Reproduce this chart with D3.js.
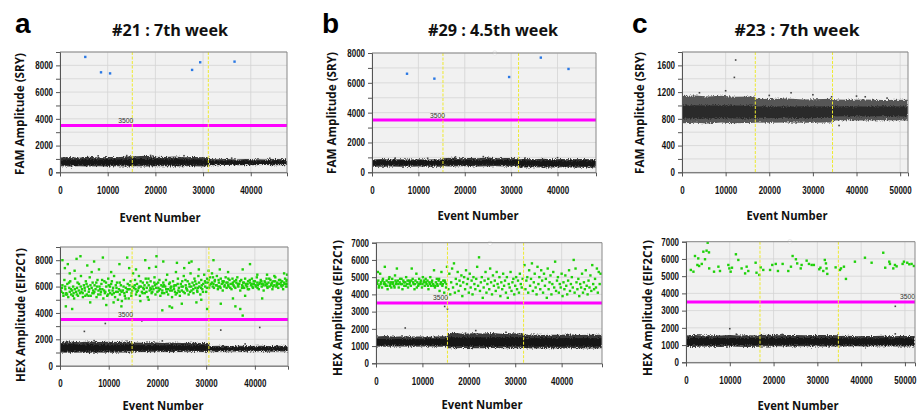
<!DOCTYPE html>
<html><head><meta charset="utf-8">
<script src="https://cdn.jsdelivr.net/npm/d3@7"></script>
<style>body{margin:0;background:#fff}svg{display:block}</style>
</head><body>
<svg id="c" width="920" height="412">
<defs>
<filter id="rough" x="-2%" y="-40%" width="104%" height="180%">
  <feTurbulence type="fractalNoise" baseFrequency="0.95 0.7" numOctaves="2" seed="7" result="n"/>
  <feDisplacementMap in="SourceGraphic" in2="n" scale="4.5" xChannelSelector="R" yChannelSelector="G"/>
</filter>
</defs>
</svg>
<script>
// ---------------- DATA ----------------
const panelLetters = ["a", "b", "c"];
const panelTitles = ["#21 : 7th week", "#29 : 4.5th week", "#23 : 7th week"];
const famLabel = "FAM Amplitude (SRY)";
const hexLabel = "HEX Amplitude (EIF2C1)";
const xLabel = "Event Number";
const threshold = 3500;

const xTicks40 = [0, 10000, 20000, 30000, 40000];
const xTicks50 = [0, 10000, 20000, 30000, 40000, 50000];
const yTicks8k = [0, 2000, 4000, 6000, 8000];
const yMinor9k = [1000, 3000, 5000, 7000, 9000];
const yMinor8k = [1000, 3000, 5000, 7000];
const yTicks7k = [0, 1000, 2000, 3000, 4000, 5000, 6000, 7000];
const yTicks1600 = [0, 400, 800, 1200, 1600];
const yMinor1600 = [200, 600, 1000, 1400, 1800];

// gate positions (event number) per panel
const gatesATop = [15160, 31100];
const gatesABot = [14800, 30560];
const gatesBTop = [15300, 31600];
const gatesBBot = [15400, 31800];
const gatesCTop = [16800, 34500];
const gatesCBot = [16900, 34800];

// negative droplet bands: [event, outerLow, coreLow, coreHigh, outerHigh]
const bandATop = [[0,450,560,940,1100],[2000,440,550,950,1150],[4000,460,560,930,1080],[6000,430,550,950,1170],[8000,450,560,940,1100],[10000,440,550,960,1150],[12000,460,560,950,1120],[14000,430,550,960,1180],[16000,450,560,980,1200],[18000,440,570,990,1230],[20000,460,560,970,1160],[22000,450,560,960,1140],[24000,440,560,970,1190],[26000,460,570,960,1130],[28000,450,560,960,1150],[30000,440,560,950,1120],[31100,450,560,950,1130],[31200,530,610,880,1000],[33000,520,600,870,970],[35000,540,610,880,990],[37000,520,600,870,960],[39000,530,610,880,1000],[41000,520,600,870,980],[43000,540,610,870,960],[45000,520,600,880,990],[47600,530,610,870,970]];
const bandABot = [[0,1000,1100,1600,1800],[2000,990,1100,1620,1840],[4000,1010,1110,1600,1780],[6000,990,1100,1610,1830],[8000,1000,1100,1590,1790],[10000,990,1110,1600,1820],[12000,1010,1100,1610,1800],[14000,1000,1110,1600,1830],[14800,1000,1100,1600,1800],[15000,1050,1150,1560,1760],[17000,1040,1150,1550,1740],[19000,1060,1160,1560,1770],[21000,1050,1150,1540,1730],[23000,1040,1150,1550,1750],[25000,1060,1160,1550,1720],[27000,1050,1150,1540,1740],[29000,1040,1150,1550,1730],[30560,1050,1160,1540,1720],[30700,1080,1170,1400,1500],[33000,1070,1160,1410,1520],[35000,1080,1170,1400,1490],[37000,1060,1160,1390,1510],[39000,1080,1170,1400,1500],[41000,1070,1160,1410,1520],[43000,1060,1160,1400,1490],[45000,1080,1170,1390,1510],[46800,1070,1160,1400,1500]];
const bandBTop = [[0,380,480,790,860],[2000,370,470,800,890],[4000,390,480,790,850],[6000,380,470,800,880],[8000,370,480,790,860],[10000,390,480,800,870],[12000,380,470,790,850],[14000,370,480,800,880],[15300,380,480,790,860],[15400,400,500,820,950],[17000,390,500,830,980],[19000,410,500,820,940],[21000,400,510,830,960],[23000,390,500,820,950],[25000,410,500,830,990],[27000,400,510,820,940],[29000,390,500,830,960],[31600,400,500,820,950],[31700,330,430,780,880],[33000,320,430,790,900],[35000,340,440,780,870],[37000,330,430,790,910],[39000,320,430,780,880],[41000,340,440,790,900],[43000,330,430,780,870],[45000,320,430,790,890],[48300,330,440,780,880]];
const bandCTop = [[0,735,805,1000,1140],[3000,740,805,1005,1150],[6000,730,800,1000,1135],[9000,745,810,1005,1145],[12000,735,805,1000,1130],[16800,740,805,1000,1135],[16900,745,815,985,1100],[20000,740,810,990,1095],[24000,745,815,985,1105],[28000,740,810,990,1090],[34500,745,815,985,1100],[34600,775,835,985,1090],[38000,780,840,990,1085],[42000,775,835,985,1090],[46000,780,840,990,1080],[51800,775,835,985,1085]];
const bandBBot = [[0,970,1050,1400,1550],[2000,960,1050,1410,1580],[4000,980,1060,1400,1540],[6000,970,1050,1410,1570],[8000,960,1050,1400,1550],[10000,980,1060,1400,1560],[12000,970,1050,1410,1540],[14000,960,1050,1400,1570],[15400,970,1050,1400,1550],[15500,880,1000,1500,1740],[17000,870,1000,1510,1760],[19000,890,1010,1500,1720],[21000,880,1000,1510,1750],[23000,870,1000,1500,1730],[25000,890,1010,1510,1760],[27000,880,1000,1500,1720],[29000,870,1000,1510,1740],[31800,880,1000,1500,1730],[31900,870,980,1450,1650],[34000,860,980,1460,1670],[36000,880,990,1450,1640],[38000,870,980,1460,1660],[40000,860,980,1450,1650],[42000,880,990,1460,1670],[44000,870,980,1450,1640],[46000,860,980,1460,1660],[48700,870,990,1450,1650]];
const bandCBot = [[0,900,1000,1400,1560],[2000,890,1000,1410,1580],[4000,910,1010,1400,1550],[6000,900,1000,1410,1570],[8000,890,1000,1400,1560],[10000,910,1010,1410,1580],[12000,900,1000,1400,1550],[14000,890,1000,1410,1570],[16900,900,1000,1400,1560],[17000,920,1020,1400,1580],[19000,910,1020,1410,1600],[21000,930,1030,1400,1570],[23000,920,1020,1410,1590],[25000,910,1020,1400,1580],[27000,930,1030,1410,1570],[29000,920,1020,1400,1590],[31000,910,1020,1410,1580],[34800,920,1020,1400,1570],[34900,920,1010,1380,1520],[37000,910,1010,1390,1540],[39000,930,1020,1380,1510],[41000,920,1010,1390,1530],[43000,910,1010,1380,1520],[45000,930,1020,1390,1540],[47000,920,1010,1380,1510],[49000,910,1010,1390,1530],[52300,920,1020,1380,1520]];

// isolated negative (grey) droplets
const negATop = [[14000,1250],[19000,1260],[26000,1240],[8000,1230],[36000,1060],[44000,1050]];
const negABot = [[5000,2600],[9300,3200],[16800,3400],[33000,2700],[41000,2900],[7000,1900],[21000,1880],[38000,1650]];
const negBTop = [[5000,950],[12000,940],[18000,1030],[24000,1050],[33000,960],[40000,980]];
const negBBot = [[6300,2050],[19300,1750],[21500,1900],[14800,3300],[15400,3150],[28000,1800]];
const negCTop = [[12300,1680],[12000,1420],[10000,1220],[4000,1190],[25000,1190],[40000,1140],[42000,1130],[36000,700],[34300,1130],[20000,1150],[30000,1160],[47000,1110]];
const negCBot = [[10000,1950],[47800,3250],[47800,1650],[22000,1620],[11500,1630]];

// FAM positive droplets (blue)
const posATop = [[5300,8630],[8600,7480],[10500,7400],[27700,7660],[29400,8230],[36600,8280]];
const posBTop = [[7550,6610],[13450,6280],[29570,6390],[36400,7690],[42370,6930]];
const posCTop = [];

// HEX positive droplets (green)
const posABot = [[300,5600],[500,6100],[700,5300],[900,6500],[1100,5800],[1300,5500],[1500,6200],[1700,5200],[1900,5900],[2100,6400],[2300,5400],[2500,5700],[2700,6000],[2900,5100],[3100,6600],[3300,5600],[3500,5900],[3700,5300],[3900,6200],[4100,5500],[4300,6800],[4500,5800],[4700,5200],[4900,6100],[5100,5700],[5300,6400],[5500,5400],[5700,6000],[5900,5600],[6100,6700],[6300,5300],[6500,5900],[6700,6300],[6900,5500],[7100,6100],[7300,5800],[7500,5200],[7700,6500],[7900,5700],[8100,6000],[8300,5400],[8500,6200],[8700,5800],[8900,5100],[9100,6400],[9300,5600],[9500,6000],[9700,5300],[9900,6600],[10100,5700],[10300,5500],[10500,6200],[10700,5400],[10900,5900],[11100,6800],[11300,5200],[11500,5600],[11700,6300],[11900,5000],[12100,5800],[12300,5400],[12500,6100],[12700,4900],[12900,5700],[13100,6500],[13300,5300],[13500,5900],[13700,5600],[13900,6200],[14100,5100],[14300,5800],[14500,6400],[14700,5500],[14900,6000],
[400,5900],[1200,5400],[2000,5600],[2800,5500],[3600,6300],[4400,5600],[5200,5300],[6000,5800],[6800,5700],[7600,6000],[8400,5600],[9200,5500],[10000,6100],[10800,5700],[11600,5900],[12400,5700],[13200,5500],[14000,5800],[14800,5700],
[150,5700],[650,5500],[1050,6000],[1450,5400],[1850,6300],[2250,5800],[2650,5300],[3050,5800],[3450,5400],[3850,5700],[4250,6000],[4650,5500],[5050,5900],[5450,6200],[5850,5300],[6250,6100],[6650,5500],[7050,5600],[7450,6300],[7850,5400],[8250,5800],[8650,6500],[9050,5700],[9450,6300],[9850,5400],[10250,6000],[10650,6400],[11050,5500],[11450,6100],[11850,5600],[12250,6300],[12650,5600],[13050,6000],[13450,5100],[13850,5800],[14250,6100],[14650,5300],
[500,8000],[1000,7400],[1600,7700],[2000,7000],[2500,4300],[1200,4500],[3400,8100],[4200,8300],[5600,7600],[6200,4800],[7000,7900],[8000,7300],[8800,8200],[9500,4600],[10500,7100],[11000,4800],[12200,7700],[12600,4500],[13800,8200],[14200,7400],[3000,7200],[6500,7100],
[15200,5900],[15400,6500],[15600,5400],[15800,6200],[16000,5700],[16200,6800],[16400,5300],[16600,6000],[16800,5600],[17000,6300],[17200,5800],[17400,5500],[17600,6600],[17800,5900],[18000,5200],[18200,6100],[18400,5700],[18600,6400],[18800,5500],[19000,6000],[19200,5800],[19400,6700],[19600,5400],[19800,6200],[20000,5600],[20200,5900],[20400,6500],[20600,5300],[20800,6100],[21000,5700],[21200,6300],[21400,5500],[21600,6000],[21800,5800],[22000,6900],[22200,5400],[22400,6200],[22600,5700],[22800,6000],[23000,5200],[23200,6400],[23400,5800],[23600,5600],[23800,6100],[24000,5500],[24200,6600],[24400,5900],[24600,5300],[24800,6200],[25000,5700],[25200,6000],[25400,6800],[25600,5500],[25800,6100],[26000,5800],[26200,6400],[26400,5400],[26600,6000],[26800,7000],[27000,5700],[27200,6300],[27400,5500],[27600,6600],[27800,5900],[28000,6200],[28200,5600],[28400,6800],[28600,6000],[28800,5400],[29000,6500],[29200,5800],[29400,6200],[29600,6900],[29800,6000],[30000,5600],[30200,6600],[30400,6300],[30600,5900],[30800,6700],
[15500,5800],[16300,6000],[17100,5900],[17900,6300],[18700,5800],[19500,6100],[20300,5700],[21100,6000],[21900,5600],[22700,5900],[23500,6100],[24300,5700],[25100,6400],[25900,5900],[26700,5600],[27500,6100],[28300,5900],[29100,6100],[29900,6300],[30700,6100],
[15350,6100],[15750,5600],[16150,5900],[16550,6400],[16950,5500],[17350,6100],[17750,5600],[18150,6600],[18550,5900],[18950,5600],[19350,6300],[19750,5900],[20150,6300],[20550,5800],[20950,5500],[21350,6100],[21750,6500],[22150,5800],[22550,6300],[22950,5700],[23350,6000],[23750,5400],[24150,6200],[24550,5600],[24950,6000],[25350,5600],[25750,6500],[26150,5700],[26550,6200],[26950,6000],[27350,5800],[27750,6400],[28150,5700],[28550,6300],[28950,5900],[29350,5600],[29750,6400],[30150,5900],[30550,6500],[30950,6200],
[15000,7000],[15600,7300],[16500,4900],[17500,8000],[18300,7400],[18200,5000],[19800,8300],[19700,7500],[21000,4200],[21200,7900],[22500,4500],[23000,4400],[23800,7100],[24000,7800],[25000,4700],[25500,7400],[26500,7800],[27000,7900],[28500,7300],[29000,5000],[30200,4300],[30500,7200],[28000,4800],
[31200,6300],[31400,6700],[31600,5900],[31800,6500],[32000,6100],[32200,6800],[32400,5800],[32600,6300],[32800,6000],[33000,6600],[33200,6200],[33400,5700],[33600,6400],[33800,6100],[34000,6700],[34200,5900],[34400,6300],[34600,6000],[34800,6500],[35000,6200],[35200,5800],[35400,6600],[35600,6100],[35800,6400],[36000,5900],[36200,6300],[36400,6700],[36600,6000],[36800,6200],[37000,5700],[37200,6500],[37400,6100],[37600,6300],[37800,5900],[38000,6600],[38200,6200],[38400,6000],[38600,6400],[38800,5800],[39000,6300],[39200,6100],[39400,6600],[39600,5900],[39800,6200],[40000,6400],[40200,6000],[40400,6700],[40600,6100],[40800,5800],[41000,6300],[41200,6500],[41400,6000],[41600,6200],[41800,5700],[42000,6400],[42200,6100],[42400,6600],[42600,5900],[42800,6300],[43000,6000],[43200,6500],[43400,6200],[43600,5800],[43800,6400],[44000,6100],[44200,6700],[44400,6000],[44600,6300],[44800,5900],[45000,6200],[45200,6500],[45400,6100],[45600,6400],[45800,5800],[46000,6300],[46200,6600],[46400,6000],[46600,6200],
[31500,6200],[32500,6000],[33500,6300],[34500,6100],[35500,6300],[36500,6200],[37500,6000],[38500,6200],[39500,6000],[40500,6300],[41500,6200],[42500,6200],[43500,6300],[44500,6200],[45500,6000],[46500,6400],[46700,6200],
[31350,6000],[31750,6400],[32150,6100],[32550,6500],[32950,5900],[33350,6400],[33750,6000],[34150,6300],[34550,6600],[34950,5900],[35350,6200],[35750,6000],[36150,6500],[36550,6100],[36950,6400],[37350,5900],[37750,6300],[38150,6100],[38550,5800],[38950,6500],[39350,6200],[39750,6400],[40150,6100],[40550,5900],[40950,6200],[41350,6400],[41750,6100],[42150,6300],[42550,6000],[42950,6600],[43350,6100],[43750,6000],[44150,6400],[44550,6100],[44950,6500],[45350,6300],[45750,6100],[46150,6200],[46550,6500],[46750,6000],
[31500,8000],[31200,7000],[32800,7300],[33000,4700],[34500,7100],[36000,4500],[37000,4300],[37500,3800],[37500,7300],[39000,7700],[40500,6900],[41500,5100],[42500,6900],[44000,6800],[46000,7000],[46600,6900],[35500,5100],[38000,5300]];

const posBBot = [[300,4600],[500,4800],[700,4500],[900,5200],[1100,4700],[1300,4400],[1500,4900],[1700,4600],[1900,5600],[2100,4500],[2300,4800],[2500,4300],[2700,4700],[2900,5000],[3100,4600],[3300,4400],[3500,4900],[3700,4700],[3900,4500],[4100,5100],[4300,4600],[4500,5500],[4700,4800],[4900,4400],[5100,4700],[5300,4600],[5500,4900],[5700,4300],[5900,4800],[6100,4500],[6300,4700],[6500,5000],[6700,4600],[6900,4400],[7100,4800],[7300,4700],[7500,4500],[7700,5500],[7900,4900],[8100,4600],[8300,4300],[8500,4800],[8700,5200],[8900,4700],[9100,4500],[9300,4900],[9500,4600],[9700,4800],[9900,4400],[10100,5000],[10300,4700],[10500,4500],[10700,4900],[10900,4600],[11100,4800],[11300,4300],[11500,4700],[11700,5000],[11900,4500],[12100,4800],[12300,4600],[12500,5400],[12700,4400],[12900,4700],[13100,4900],[13300,4500],[13500,4800],[13700,4200],[13900,4600],[14100,5300],[14300,4500],[14500,4800],[14700,4100],[14900,4700],[15100,4400],[15300,5600],
[400,5300],[1800,4700],[3000,4500],[4200,4800],[5600,4600],[6800,4800],[8000,4700],[9200,4600],[10400,4800],[11600,4600],[12800,4500],[14000,4700],
[200,4700],[600,4400],[1000,4600],[1400,4800],[2000,4600],[2400,4500],[2800,4900],[3200,4700],[3600,4600],[4000,4400],[4400,4700],[4800,4600],[5200,4900],[6000,4700],[6400,4500],[7200,4600],[7600,4800],[8400,4600],[8800,4400],[9600,4700],[10000,4600],[10800,4700],[11200,4500],[12000,4700],[12400,4500],[13200,4600],[13600,4900],[14400,4600],[14800,4800],[15200,4600],
[15600,4300],[15800,5200],[16000,4000],[16200,4700],[16400,5500],[16600,4400],[16800,5800],[17000,4100],[17200,4900],[17400,4600],[17600,5300],[17800,4200],[18000,4800],[18200,4500],[18400,5100],[18600,3900],[18800,4700],[19000,5000],[19200,4300],[19400,5400],[19600,4600],[19800,4900],[20000,4100],[20200,5200],[20400,4400],[20600,4800],[20800,4000],[21000,5000],[21200,4600],[21400,4300],[21600,4900],[21800,5600],[22000,4500],[22200,6150],[22400,4200],[22600,4700],[22800,5000],[23000,3800],[23200,4400],[23400,4800],[23600,5300],[23800,4100],[24000,4600],[24200,4900],[24400,4300],[24600,5500],[24800,4700],[25000,4000],[25200,5100],[25400,4500],[25600,4800],[25800,4200],[26000,5300],[26200,4600],[26400,4400],[26600,5000],[26800,3900],[27000,4700],[27200,4300],[27400,5200],[27600,4500],[27800,4800],[28000,4100],[28200,5000],[28400,3800],[28600,4600],[28800,4400],[29000,5300],[29200,4200],[29400,4700],[29600,4900],[29800,4000],[30000,4500],[30200,5000],[30400,4300],[30600,4800],[30800,4100],[31000,5200],[31200,4600],[31400,4400],[31600,4900],
[32000,5700],[32200,4300],[32400,4800],[32600,5000],[32800,4100],[33000,5400],[33200,4500],[33400,4900],[33600,5800],[33800,4200],[34000,4700],[34200,5200],[34400,4400],[34600,4000],[34800,5600],[35000,4600],[35200,5000],[35400,4300],[35600,5400],[35800,4800],[36000,4100],[36200,5200],[36400,4500],[36600,4900],[36800,3800],[37000,5500],[37200,4300],[37400,4700],[37600,5100],[37800,4000],[38000,4600],[38200,5300],[38400,4400],[38600,5900],[38800,4200],[39000,4800],[39200,5000],[39400,4100],[39600,4600],[39800,4400],[40000,5200],[40200,3900],[40400,4700],[40600,4300],[40800,5100],[41000,4500],[41200,4000],[41400,4800],[41600,5400],[41800,4200],[42000,4600],[42200,5000],[42400,4400],[42600,6000],[42800,4100],[43000,5500],[43200,4700],[43400,4300],[43600,4900],[43800,3900],[44000,4600],[44200,4400],[44400,5200],[44600,4100],[44800,4700],[45000,4300],[45200,5400],[45400,4500],[45600,4000],[45800,4800],[46000,4400],[46200,5100],[46400,4200],[46600,5700],[46800,4600],[47000,4300],[47200,4900],[47400,4400],[47600,5500],[47800,4100],[48000,5300],[48200,4600],[48400,5200]];

const posCBot = [[1100,5360],[1700,5260],[2050,6170],[2600,5650],[3000,5590],[2800,6030],[3600,5710],[3960,6420],[4340,5980],[4700,6480],[4950,6940],[5250,6380],[5300,5450],[6400,5260],[7400,5550],[7760,5300],[9670,5650],[9900,5450],[10200,5260],[10500,5490],[11400,6270],[11950,5940],[12700,5450],[13500,5160],[13850,5550],[14230,5300],[15900,5780],[16100,5200],[16740,5070],[17050,5510],[17650,5360],[19200,5360],[19700,5650],[20500,5710],[21000,5300],[22070,5710],[23360,5300],[23970,5550],[24350,6170],[25100,5980],[25400,5740],[26200,5450],[26400,5650],[27550,5900],[28080,5710],[28700,5650],[29200,5650],[30440,5400],[30700,5490],[31350,5300],[31700,5940],[31960,5740],[32100,5450],[32270,5130],[34170,5510],[35160,5360],[35400,5450],[36070,5550],[36530,4840],[38580,5840],[40870,6070],[42390,5780],[45050,6360],[45500,5490],[46420,5840],[46580,5710],[47340,5450],[47720,5650],[48100,5570],[49470,5710],[49770,5840],[50530,5780],[51000,5690],[51520,5710],[52050,5590]];

// white image artefacts on top edge
const blipBTop = [[26470, 8000]];
const blipBBot = [[24560, 6960]];
const blipCBot = [[23740, 7000]];

// ---------------- LAYOUT / DRAW ----------------
const tickFont = '"Liberation Sans",Arial,sans-serif';
const tickScale = 0.76;
const labelFont = '"Open Sans","Noto Sans",sans-serif';

const panels = [
  {box:[60,52,287,172.3], xMax:47600, yMax:9000, yMajor:yTicks8k, yMinor:yMinor9k, xTicks:xTicks40, gates:gatesATop, band:bandATop, neg:negATop, pos:posATop, posColor:'#2a78e4', blips:[], thrX:12200, ylab:famLabel, ylabLen:122, ylabPos:[19,114], xlabPos:[160,217], bandOuter:'#383838', bandCore:'#121212'},
  {box:[60,247,288,365.7], xMax:46800, yMax:9000, yMajor:yTicks8k, yMinor:yMinor9k, xTicks:xTicks40, gates:gatesABot, band:bandABot, neg:negABot, pos:posABot, posColor:'#1fd10a', blips:[], thrX:11900, ylab:hexLabel, ylabLen:134, ylabPos:[20,315], xlabPos:[163,405], bandOuter:'#383838', bandCore:'#121212'},
  {box:[372,53,596,172.3], xMax:48300, yMax:8000, yMajor:yTicks8k, yMinor:yMinor8k, xTicks:xTicks40, gates:gatesBTop, band:bandBTop, neg:negBTop, pos:posBTop, posColor:'#2a78e4', blips:blipBTop, thrX:12500, ylab:famLabel, ylabLen:122, ylabPos:[331,113], xlabPos:[478,215], bandOuter:'#383838', bandCore:'#121212'},
  {box:[376,242.7,602,363.3], xMax:48700, yMax:7000, yMajor:yTicks7k, yMinor:[], xTicks:xTicks40, gates:gatesBBot, band:bandBBot, neg:negBBot, pos:posBBot, posColor:'#1fd10a', blips:blipBBot, thrX:12280, ylab:hexLabel, ylabLen:136, ylabPos:[337,308], xlabPos:[482,404], bandOuter:'#383838', bandCore:'#121212'},
  {box:[682,52,908,172.3], xMax:51800, yMax:1800, yMajor:yTicks1600, yMinor:yMinor1600, xTicks:xTicks50, gates:gatesCTop, band:bandCTop, neg:negCTop, pos:posCTop, posColor:'#2a78e4', blips:[], thrX:null, ylab:famLabel, ylabLen:122, ylabPos:[639,113], xlabPos:[787,215], bandOuter:'#575757', bandCore:'#2c2c2c'},
  {box:[686,241.7,915,362.3], xMax:52300, yMax:7000, yMajor:yTicks7k, yMinor:[], xTicks:xTicks50, gates:gatesCBot, band:bandCBot, neg:negCBot, pos:posCBot, posColor:'#1fd10a', blips:blipCBot, thrX:48860, ylab:hexLabel, ylabLen:136, ylabPos:[647,308], xlabPos:[798,405], bandOuter:'#383838', bandCore:'#121212'}
];

const svg = d3.select('#c');

panels.forEach(p => {
  const [L,T,R,B] = p.box;
  const x = d3.scaleLinear().domain([0,p.xMax]).range([L,R]);
  const y = d3.scaleLinear().domain([0,p.yMax]).range([B,T]);
  const g = svg.append('g');
  const clipId = 'clip' + Math.round(L) + Math.round(T);
  g.append('clipPath').attr('id', clipId).append('rect').attr('x',L).attr('y',T).attr('width',R-L).attr('height',B-T);

  g.append('rect').attr('x',L).attr('y',T).attr('width',R-L).attr('height',B-T).attr('fill','#f1f1f1');
  const allY = p.yMajor.concat(p.yMinor);
  g.append('g').selectAll('line').data(allY).join('line')
    .attr('x1',L).attr('x2',R).attr('y1',d=>y(d)).attr('y2',d=>y(d))
    .attr('stroke','#d4d4d4').attr('stroke-width',0.8);
  g.append('g').selectAll('line').data(p.xTicks).join('line')
    .attr('y1',T).attr('y2',B).attr('x1',d=>x(d)).attr('x2',d=>x(d))
    .attr('stroke','#d4d4d4').attr('stroke-width',0.8);

  const plot = g.append('g').attr('clip-path', `url(#${clipId})`);
  // band (roughened edges)
  const bandG = plot.append('g').attr('filter','url(#rough)');
  bandG.append('path').datum(p.band)
    .attr('d', d3.area().x(d=>x(d[0])).y0(d=>y(d[1])).y1(d=>y(d[4])))
    .attr('fill', p.bandOuter);
  bandG.append('path').datum(p.band)
    .attr('d', d3.area().x(d=>x(d[0])).y0(d=>y(d[2])).y1(d=>y(d[3])))
    .attr('fill', p.bandCore);
  plot.append('g').selectAll('rect').data(p.neg).join('rect')
    .attr('x',d=>x(d[0])-0.8).attr('y',d=>y(d[1])-0.8).attr('width',1.6).attr('height',1.6)
    .attr('fill','#444');

  // threshold
  if (p.thrX !== null) {
    plot.append('line').attr('x1',L).attr('x2',R).attr('y1',y(threshold)).attr('y2',y(threshold))
      .attr('stroke','#ff00ff').attr('stroke-width',3);
  }
  // positive droplets
  plot.append('g').selectAll('rect').data(p.pos).join('rect')
    .attr('x',d=>x(d[0])-1.2).attr('y',d=>y(d[1])-1.2).attr('width',2.4).attr('height',2.4)
    .attr('fill', p.posColor);

  // gates
  plot.append('g').selectAll('line').data(p.gates).join('line')
    .attr('x1',d=>x(d)).attr('x2',d=>x(d)).attr('y1',T).attr('y2',B)
    .attr('stroke','#eeea30').attr('stroke-width',1).attr('stroke-dasharray','3,1.5');

  if (p.thrX !== null) {
    g.append('text').attr('x', x(p.thrX)/0.85).attr('y', y(threshold)-2.5)
      .attr('transform','scale(0.85,1)')
      .attr('font-family', tickFont).attr('font-size', 8).attr('fill','#333')
      .text(String(threshold));
  }

  g.append('g').selectAll('circle').data(p.blips).join('circle')
    .attr('cx',d=>x(d[0])).attr('cy',d=>y(d[1])).attr('r',2.2)
    .attr('fill','#fff').attr('stroke','#ddd').attr('stroke-width',0.6);

  // frame (top, right)
  g.append('path').attr('d',`M${L},${T}H${R}V${B}`).attr('fill','none').attr('stroke','#888').attr('stroke-width',1);

  // axes
  const ay = d3.axisLeft(y).tickValues(allY.filter(v=>v<=p.yMax)).tickSize(4).tickPadding(3)
    .tickFormat(d => p.yMajor.includes(d) ? String(d) : '');
  const gy = g.append('g').attr('transform',`translate(${L},0)`).call(ay);
  const ax = d3.axisBottom(x).tickValues(p.xTicks).tickSize(4).tickPadding(10).tickFormat(d=>String(d));
  const gx = g.append('g').attr('transform',`translate(0,${B})`).call(ax);
  [gy,gx].forEach(a => {
    a.select('.domain').attr('stroke','#555');
    a.selectAll('.tick line').attr('stroke','#555');
    a.selectAll('.tick text').attr('font-family',tickFont).attr('font-size',10.5)
      .attr('font-weight','bold').attr('fill','#111');
  });
  gy.selectAll('.tick text').attr('x', -7/tickScale).attr('transform',`scale(${tickScale},1)`);
  gx.selectAll('.tick text').attr('transform',`scale(${tickScale},1)`);

  // axis titles
  svg.append('text').attr('transform',`translate(${p.ylabPos[0]},${p.ylabPos[1]}) rotate(-90)`)
    .attr('text-anchor','middle').attr('dominant-baseline','central')
    .attr('font-family',labelFont).attr('font-weight','bold').attr('font-size',12.5).attr('fill','#111')
    .attr('textLength', p.ylabLen).attr('lengthAdjust','spacingAndGlyphs')
    .text(p.ylab);
  svg.append('text').attr('x',p.xlabPos[0]).attr('y',p.xlabPos[1])
    .attr('text-anchor','middle').attr('dominant-baseline','central')
    .attr('font-family',labelFont).attr('font-weight','bold').attr('font-size',12.5).attr('fill','#111')
    .attr('textLength', 81).attr('lengthAdjust','spacingAndGlyphs')
    .text(xLabel);
});

// titles and panel letters
const titlePos = [[170,30],[493,30],[797,30]];
const titleLen = [116,130,125];
const letterPos = [[15,33],[322,33],[632,33]];
panelTitles.forEach((t,i) => {
  svg.append('text').attr('x',titlePos[i][0]).attr('y',titlePos[i][1])
    .attr('text-anchor','middle').attr('dominant-baseline','central')
    .attr('font-family',labelFont).attr('font-weight','bold').attr('font-size',16).attr('fill','#111')
    .attr('textLength', titleLen[i]).attr('lengthAdjust','spacingAndGlyphs')
    .text(t);
  svg.append('text').attr('x',letterPos[i][0]).attr('y',letterPos[i][1])
    .attr('font-family','"Liberation Sans",Arial,sans-serif').attr('font-weight','bold').attr('font-size',28).attr('fill','#000')
    .text(panelLetters[i]);
});
</script>
</body></html>
